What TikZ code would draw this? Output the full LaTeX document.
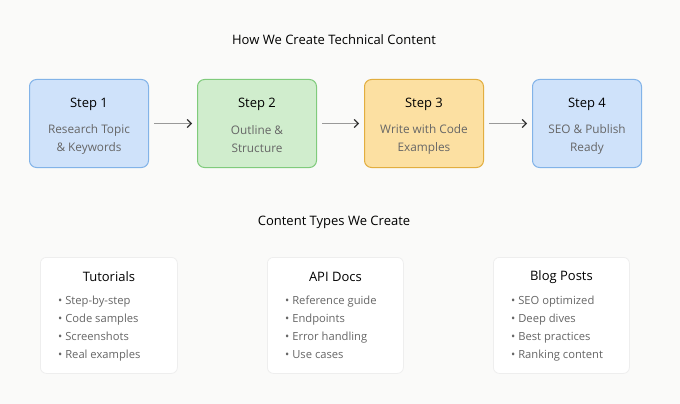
\documentclass[tikz,border=0pt]{standalone}
\usepackage{fontspec}
\setmainfont{Open Sans}
\usetikzlibrary{arrows.meta}
\definecolor{bg}{HTML}{FAFAF9}
\definecolor{bluefill}{HTML}{CFE2FA}
\definecolor{blueline}{HTML}{82B3E8}
\definecolor{greenfill}{HTML}{D0EDCD}
\definecolor{greenline}{HTML}{80CB7C}
\definecolor{orangefill}{HTML}{FCE0A2}
\definecolor{orangeline}{HTML}{E2AE40}
\definecolor{subtext}{HTML}{666666}
\definecolor{cardline}{HTML}{EEEEEE}
\definecolor{arrowline}{HTML}{999999}
\begin{document}
\begin{tikzpicture}[x=1pt,y=-1pt,
  stepbox/.style={draw, line width=1pt, rounded corners=7pt, anchor=north west, inner sep=0pt},
  card/.style={draw=cardline, fill=white, line width=0.8pt, rounded corners=6pt, anchor=north west, inner sep=0pt},
  steptitle/.style={font=\fontsize{13}{15}\selectfont, text=black},
  steptext/.style={font=\fontsize{11.8}{18}\selectfont, text=subtext, align=center},
  heading/.style={font=\fontsize{13}{15}\selectfont, text=black},
  bullet/.style={font=\fontsize{11.2}{18}\selectfont, text=subtext, align=left, anchor=north west, inner sep=0pt},
  flow/.style={draw=arrowline, line width=1pt, -{Straight Barb[length=4pt,width=8pt,line width=1.2pt,color=black!80]}}
]
\path[fill=bg] (0,0) rectangle (680,404);
\useasboundingbox (0,0) rectangle (680,404);

\node[heading] (title) at (334,40) {How We Create Technical Content};

\node[stepbox, fill=bluefill, draw=blueline, minimum width=119pt, minimum height=88pt] (s1) at (29,79) {};
\node[stepbox, fill=greenfill, draw=greenline, minimum width=119pt, minimum height=88pt] (s2) at (197,79) {};
\node[stepbox, fill=orangefill, draw=orangeline, minimum width=119pt, minimum height=88pt] (s3) at (364,79) {};
\node[stepbox, fill=bluefill, draw=blueline, minimum width=109pt, minimum height=88pt] (s4) at (532,79) {};

\foreach \s/\t/\a/\b in {s1/Step 1/Research Topic/\& Keywords, s2/Step 2/Outline \&/Structure, s3/Step 3/Write with Code/Examples, s4/Step 4/SEO \& Publish/Ready}{
  \node[steptitle] (\s t) at ([yshift=-25.5pt]\s.north) {\t};
  \node[steptext] (\s x) at ([yshift=-60.5pt]\s.north) {\a\\\b};
}

\draw[flow] ([xshift=5pt]s1.east) -- ([xshift=-5pt]s2.west);
\draw[flow] ([xshift=5pt]s2.east) -- ([xshift=-5pt]s3.west);
\draw[flow] ([xshift=5pt]s3.east) -- ([xshift=-5pt]s4.west);

\node[heading] (types) at (334,222) {Content Types We Create};

\node[card, minimum width=137pt, minimum height=116pt] (c1) at (40,257) {};
\node[card, minimum width=136pt, minimum height=116pt] (c2) at (267,257) {};
\node[card, minimum width=136pt, minimum height=116pt] (c3) at (493,257) {};

\node[heading] (c1t) at ([yshift=-20pt]c1.north) {Tutorials};
\node[heading] (c2t) at ([yshift=-20pt]c2.north) {API Docs};
\node[heading] (c3t) at ([yshift=-20pt]c3.north) {Blog Posts};

\node[bullet] (c1b) at (58,296) {• Step-by-step\\• Code samples\\• Screenshots\\• Real examples};
\node[bullet] (c2b) at (285,296) {• Reference guide\\• Endpoints\\• Error handling\\• Use cases};
\node[bullet] (c3b) at (511,296) {• SEO optimized\\• Deep dives\\• Best practices\\• Ranking content};
\end{tikzpicture}
\end{document}
